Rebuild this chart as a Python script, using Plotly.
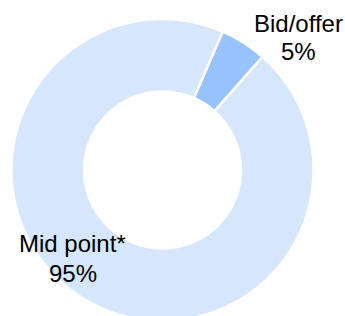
import plotly.graph_objects as go

# Data
labels = ["Bid/offer", "Mid point*"]
values = [5, 95]
colors = ["#97C2FC", "#D5E6FD"]

W, H = 345, 340  # taller canvas; window shows top 316 px (ring runs off the bottom)

def px_x(x):
    return x / W

def px_y(y):
    return 1 - y / H

fig = go.Figure(
    go.Pie(
        labels=labels,
        values=values,
        hole=0.52,
        sort=False,
        direction="clockwise",
        rotation=23.5,
        marker=dict(colors=colors, line=dict(color="#FFFFFF", width=2.5)),
        textinfo="none",
        hoverinfo="label+percent",
        domain=dict(x=[px_x(11.5), px_x(313.5)], y=[0, 1]),
        showlegend=False,
    )
)

font = dict(family="Arial, Liberation Sans, sans-serif", size=24, color="#000000")
label_pos = {
    "Bid/offer": (298.5, 24, 51),
    "Mid point*": (72.5, 243.5, 273),
}
annotations = []
for lab, val in zip(labels, values):
    cx, y1, y2 = label_pos[lab]
    annotations.append(dict(text=lab, x=px_x(cx), y=px_y(y1), xref="paper", yref="paper",
                            xanchor="center", yanchor="middle", showarrow=False, font=font))
    annotations.append(dict(text=f"{val}%", x=px_x(cx), y=px_y(y2), xref="paper", yref="paper",
                            xanchor="center", yanchor="middle", showarrow=False, font=font))

fig.update_layout(
    width=W,
    height=H,
    margin=dict(l=0, r=0, t=0, b=0),
    paper_bgcolor="#FFFFFF",
    plot_bgcolor="#FFFFFF",
    annotations=annotations,
)

fig.write_html(
    "out.html",
    config={"displayModeBar": False},
    post_script="document.documentElement.style.overflow='hidden';document.body.style.overflow='hidden';document.body.style.margin='0';",
)
